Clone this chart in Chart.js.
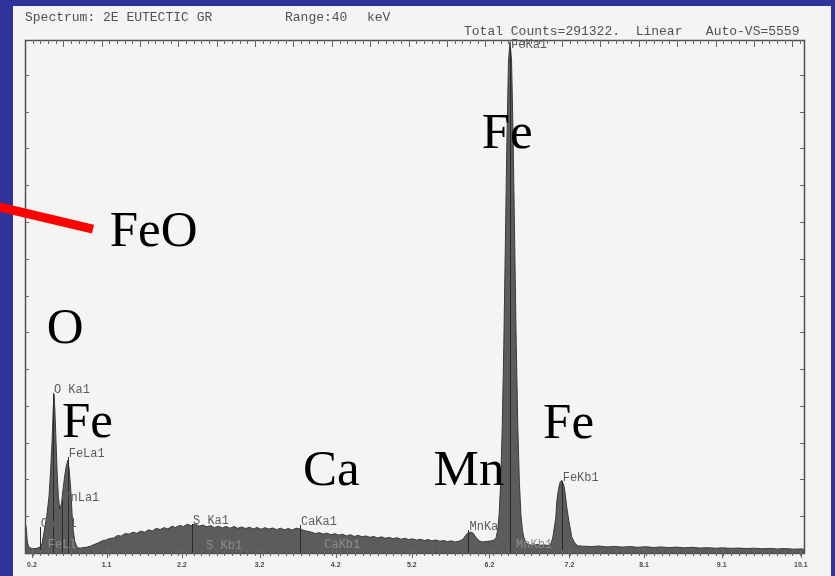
<!DOCTYPE html>
<html>
<head>
<meta charset="utf-8">
<title>Spectrum: 2E EUTECTIC GR</title>
<script src="https://cdn.jsdelivr.net/npm/chart.js@4.4.1/dist/chart.umd.min.js"></script>
<style>
  html, body { margin: 0; padding: 0; background: #30339a; }
  #wrap { width: 835px; height: 576px; position: relative; }
</style>
</head>
<body>
<div id="wrap"><canvas id="spectrum" width="835" height="576"></canvas></div>
<script>
// ===== Spectrum data (energy in keV, counts) =====
const energyKeV = [
  0.11, 0.125, 0.14, 0.16, 0.20, 0.25, 0.30, 0.33, 0.36, 0.39, 0.42, 0.44, 0.46, 0.475, 0.483,
  0.495, 0.51, 0.525, 0.54, 0.56, 0.58, 0.60, 0.62, 0.64, 0.663, 0.68, 0.70, 0.715, 0.73, 0.75,
  0.78, 0.82, 0.85, 0.90, 0.95, 1.00, 1.05, 1.10, 1.15, 1.20, 1.25, 1.30, 1.35, 1.40, 1.45,
  1.50, 1.55, 1.60, 1.65, 1.70, 1.75, 1.80, 1.85, 1.90, 1.95, 2.00, 2.05, 2.10, 2.15, 2.20,
  2.25, 2.30, 2.35, 2.40, 2.45, 2.50, 2.55, 2.60, 2.65, 2.70, 2.75, 2.80, 2.85, 2.90, 2.95,
  3.00, 3.05, 3.10, 3.15, 3.20, 3.25, 3.30, 3.35, 3.40, 3.45, 3.50, 3.55, 3.60, 3.65, 3.70,
  3.75, 3.80, 3.85, 3.90, 3.95, 4.00, 4.05, 4.10, 4.15, 4.20, 4.25, 4.30, 4.35, 4.40, 4.45,
  4.50, 4.55, 4.60, 4.65, 4.70, 4.75, 4.80, 4.85, 4.90, 4.95, 5.00, 5.05, 5.10, 5.15, 5.20,
  5.25, 5.30, 5.35, 5.40, 5.45, 5.50, 5.55, 5.60, 5.65, 5.70, 5.75, 5.80, 5.85, 5.88, 5.92,
  5.96, 6.00, 6.05, 6.10, 6.15, 6.175, 6.195, 6.215, 6.235, 6.255, 6.275, 6.295, 6.315, 6.335, 6.355,
  6.375, 6.395, 6.415, 6.435, 6.455, 6.475, 6.495, 6.515, 6.535, 6.56, 6.60, 6.65, 6.70, 6.75, 6.80,
  6.85, 6.88, 6.905, 6.944, 6.957, 6.98, 7.00, 7.02, 7.045, 7.06, 7.085, 7.105, 7.123, 7.149, 7.188,
  7.226, 7.30, 7.40, 7.50, 7.60, 7.70, 7.80, 7.90, 8.00, 8.10, 8.20, 8.30, 8.40, 8.50, 8.60,
  8.70, 8.80, 8.90, 9.00, 9.10, 9.20, 9.30, 9.40, 9.50, 9.60, 9.70, 9.80, 9.90, 10.00, 10.10,
  10.14
];
const counts = [
  330, 280, 120, 60, 50, 48, 62, 105, 250, 400, 620, 900, 1250, 1600, 1725,
  1550, 1200, 850, 600, 470, 540, 690, 830, 940, 1010, 900, 680, 440, 250, 130,
  60, 52, 58, 62, 74, 92, 108, 131, 140, 158, 162, 190, 184, 212, 205,
  226, 214, 238, 226, 252, 240, 268, 255, 276, 262, 290, 278, 300, 288, 312,
  298, 316, 292, 304, 285, 298, 276, 292, 272, 290, 270, 288, 268, 284, 266,
  280, 262, 278, 258, 276, 260, 272, 254, 270, 252, 266, 250, 270, 262, 244,
  236, 226, 212, 222, 206, 216, 198, 210, 194, 204, 186, 198, 180, 192, 176,
  186, 170, 180, 164, 176, 160, 170, 156, 166, 150, 160, 146, 154, 140, 150,
  136, 146, 132, 142, 128, 136, 124, 132, 120, 128, 150, 210, 228, 215, 165,
  132, 120, 126, 130, 140, 165, 245, 420, 775, 1380, 2265, 3375, 4500, 5350, 5559,
  5350, 4500, 3375, 2265, 1380, 775, 420, 245, 165, 110, 90, 85, 92, 84, 88,
  80, 100, 163, 381, 560, 700, 770, 790, 740, 680, 500, 390, 300, 175, 110,
  78, 74, 70, 76, 66, 72, 64, 70, 62, 68, 60, 66, 58, 64, 56,
  62, 54, 58, 52, 56, 50, 54, 48, 52, 46, 50, 44, 48, 42, 44,
  40
];

// x axis tick labels as printed under the frame
const tickKeV = [0.2, 1.16, 2.13, 3.13, 4.11, 5.09, 6.09, 7.12, 8.08, 9.08, 10.1];
const tickText = ['0.2', '1.1', '2.2', '3.2', '4.2', '5.2', '6.2', '7.2', '8.1', '9.1', '10.1'];

// KLM marker labels (small print)
const markerText  = ['O Ka1', 'FeLa1', 'MnLa1', 'CaLa1', 'FeLl', 'S Ka1', 'S Kb1', 'CaKa1', 'CaKb1', 'MnKa1', 'FeKa1', 'MnKb1', 'FeKb1'];
const markerKeV   = [0.47, 0.66, 0.59, 0.30, 0.39, 2.26, 2.43, 3.65, 3.95, 5.82, 6.355, 6.42, 7.02];
const markerLevel = [1740, 1044, 566, 283, 54, 315, 44, 305, 54, 250, 5493, 54, 783];

// big element labels added on the slide
const elementText  = ['Fe', 'FeO', 'O', 'Fe', 'Ca', 'Mn', 'Fe'];
const elementKeV   = [5.99, 1.20, 0.39, 0.586, 3.69, 5.37, 6.78];
const elementLevel = [4405, 3339, 2284, 1262, 740, 740, 1251];

// red pointer line (keV, counts)
const pointerKeV = [-0.3, 0.985];
const pointerLevel = [3781, 3524];

const Y_MAX = 5580;
const Y_STEP = 400;

// ===== Drawing of the paper, frame, ticks and annotations =====
const scanPlugin = {
  id: 'scan',
  beforeDraw(chart) {
    const c = chart.ctx;
    c.save();
    c.fillStyle = '#f4f4f2';
    c.fillRect(13, 6, 818, 570);
    c.restore();
  },
  afterDatasetsDraw(chart) {
    const c = chart.ctx;
    const xs = chart.scales.x, ys = chart.scales.y;
    const a = chart.chartArea;
    const y0 = ys.getPixelForValue(0);
    c.save();

    // marker lines
    c.strokeStyle = '#2a2a2a';
    c.lineWidth = 1;
    markerKeV.forEach((e, i) => {
      if (markerLevel[i] < 100) return;
      const px = Math.round(xs.getPixelForValue(e)) + 0.5;
      c.beginPath();
      c.moveTo(px, y0);
      c.lineTo(px, ys.getPixelForValue(markerLevel[i]));
      c.stroke();
    });

    // frame
    c.strokeStyle = '#505050';
    c.lineWidth = 1.5;
    c.strokeRect(a.left + 0.5, a.top + 0.5, a.right - a.left, a.bottom - a.top);

    // top and bottom ticks (0.1 keV minor, 0.5 keV major)
    c.lineWidth = 1;
    c.strokeStyle = '#666';
    for (let m = -5; m < 100; m++) {
      const v = 0.603 + 0.0988 * m;
      if (v < xs.min || v > xs.max) continue;
      const px = Math.round(xs.getPixelForValue(v)) + 0.5;
      const len = m % 5 === 0 ? 7 : 4;
      c.beginPath();
      c.moveTo(px, a.top); c.lineTo(px, a.top + len);
      c.moveTo(px, a.bottom - 3); c.lineTo(px, a.bottom + 3);
      c.stroke();
    }
    tickKeV.forEach(v => {
      const px = Math.round(xs.getPixelForValue(v)) + 0.5;
      c.beginPath();
      c.moveTo(px, a.bottom - 5); c.lineTo(px, a.bottom + 5);
      c.stroke();
    });

    // left and right ticks
    for (let v = Y_STEP; v < Y_MAX; v += Y_STEP) {
      const py = Math.round(ys.getPixelForValue(v)) + 0.5;
      c.beginPath();
      c.moveTo(a.left, py); c.lineTo(a.left + 4, py);
      c.moveTo(a.right, py); c.lineTo(a.right - 4, py);
      c.stroke();
    }

    // bottom tick labels
    c.fillStyle = '#4a4a4a';
    c.font = 'bold 7px "Liberation Sans"';
    c.textAlign = 'center';
    c.textBaseline = 'alphabetic';
    tickKeV.forEach((v, i) => c.fillText(tickText[i], xs.getPixelForValue(v), a.bottom + 14));

    // marker labels
    c.font = '12px "Liberation Mono"';
    c.textAlign = 'left';
    markerKeV.forEach((e, i) => {
      c.fillStyle = markerLevel[i] < 100 ? '#8c8c8c' : '#5c5c5c';
      c.fillText(markerText[i], xs.getPixelForValue(e) + 1, ys.getPixelForValue(markerLevel[i]));
    });

    // header lines
    c.fillStyle = '#505050';
    c.font = '13px "Liberation Mono"';
    c.fillText('Spectrum: 2E EUTECTIC GR', 25, 21);
    c.fillText('Range:40', 285, 21);
    c.fillText('keV', 367, 21);
    c.fillText('Total Counts=291322.  Linear   Auto-VS=5559', 464, 35);

    // big element labels
    c.fillStyle = '#000';
    c.font = '51px "Liberation Serif"';
    elementKeV.forEach((e, i) => {
      c.fillText(elementText[i], xs.getPixelForValue(e), ys.getPixelForValue(elementLevel[i]));
    });

    // red pointer
    c.strokeStyle = '#ff0000';
    c.lineWidth = 9;
    c.lineCap = 'butt';
    c.beginPath();
    c.moveTo(xs.getPixelForValue(pointerKeV[0]), ys.getPixelForValue(pointerLevel[0]));
    c.lineTo(xs.getPixelForValue(pointerKeV[1]), ys.getPixelForValue(pointerLevel[1]));
    c.stroke();

    c.restore();
  }
};

new Chart(document.getElementById('spectrum').getContext('2d'), {
  type: 'line',
  data: {
    datasets: [{
      label: 'Spectrum',
      data: energyKeV.map((e, i) => ({ x: e, y: counts[i] })),
      borderColor: '#3a3a3a',
      borderWidth: 1,
      backgroundColor: '#5c5c5c',
      fill: 'origin',
      pointRadius: 0,
      tension: 0
    }]
  },
  options: {
    responsive: false,
    animation: false,
    layout: { padding: { left: 25, right: 31, top: 40, bottom: 23 } },
    plugins: { legend: { display: false }, tooltip: { enabled: false } },
    scales: {
      x: { type: 'linear', min: 0.11, max: 10.14, display: false },
      y: { min: 0, max: Y_MAX, display: false }
    }
  },
  plugins: [scanPlugin]
});
</script>
</body>
</html>
